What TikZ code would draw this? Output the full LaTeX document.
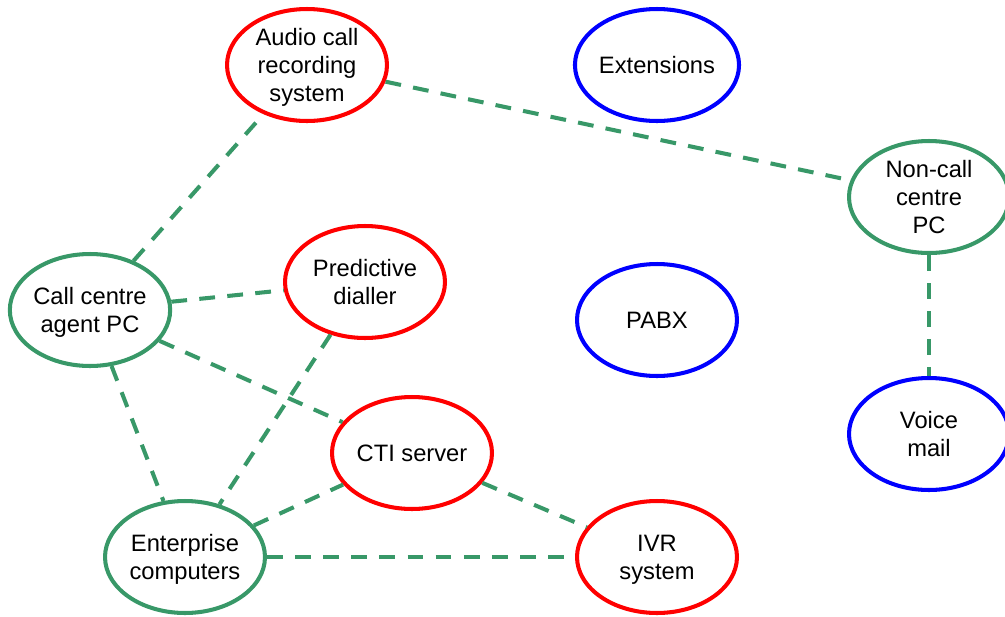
\documentclass[tikz,border=0pt]{standalone}
\usepackage{fontspec}
\setmainfont{Liberation Sans}
\usepackage{tikz}
\usetikzlibrary{shapes.geometric}
\definecolor{linkgreen}{RGB}{56,152,104}
\definecolor{sysred}{RGB}{255,0,0}
\definecolor{phoneblue}{RGB}{0,0,255}

\begin{document}
\begin{tikzpicture}[x=0.02cm, y=-0.02cm, line join=round,
    unit/.style={ellipse, draw, line width=2.3pt, minimum width=3.2cm,
        minimum height=2.24cm, inner sep=0pt, align=center, text depth=0pt,
        font=\fontsize{13.5}{16}\selectfont},
    pcunit/.style={unit, draw=linkgreen},
    sysunit/.style={unit, draw=sysred},
    telunit/.style={unit, draw=phoneblue},
    link/.style={linkgreen, line width=2.3pt, dash pattern=on 9pt off 7pt}]
    	\useasboundingbox (0,0) rectangle (1005,616);

    	% red: call centre systems
    	\node[sysunit] (Audio) at (307,65) {Audio call\\recording\\system};
    	\node[sysunit] (Dialler) at (365,282) {Predictive\\dialler};
    	\node[sysunit] (CTI) at (412,453) {CTI server};
    	\node[sysunit] (IVR) at (657,557) {IVR\\system};

    	% blue: telephony
    	\node[telunit] (Ext) at (657,65) {Extensions};
    	\node[telunit] (PABX) at (657,320) {PABX};
    	\node[telunit] (Voice) at (929,434) {Voice\\mail};

    	% green: computers
    	\node[pcunit] (Agent) at (90,310) {Call centre\\agent PC};
    	\node[pcunit] (Ent) at (185,557) {Enterprise\\computers};
    	\node[pcunit] (NonCC) at (929,197) {Non-call\\centre\\PC};

		\draw [link] (Agent)--(Audio);
		\draw [link] (Audio)--(NonCC);
		\draw [link] (NonCC)--(Voice);
		\draw [link] (Agent)--(Dialler);
		\draw [link] (Agent)--(CTI);
		\draw [link] (Agent)--(Ent);
		\draw [link] (Dialler)--(Ent);
		\draw [link] (Ent)--(CTI);
		\draw [link] (Ent)--(IVR);
		\draw [link] (CTI)--(IVR);
    \end{tikzpicture}
\end{document}
